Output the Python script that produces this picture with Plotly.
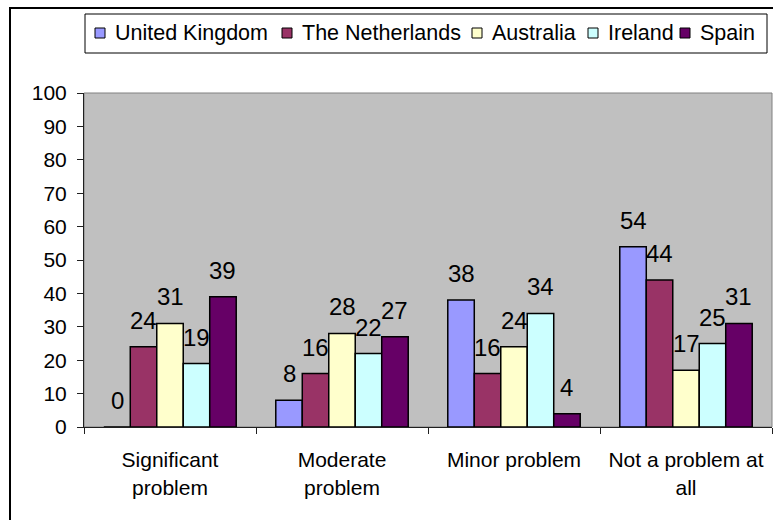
import plotly.graph_objects as go

categories = ["Significant<br>problem", "Moderate<br>problem", "Minor problem", "Not a problem at<br>all"]
countries = ["United Kingdom", "The Netherlands", "Australia", "Ireland", "Spain"]
uk = [0, 8, 38, 54]
netherlands = [24, 16, 16, 44]
australia = [31, 28, 24, 17]
ireland = [19, 22, 34, 25]
spain = [39, 27, 4, 31]
colors = ["#9999FF", "#993366", "#FFFFCC", "#CCFFFF", "#660066"]
y_ticks = list(range(0, 101, 10))

series = [uk, netherlands, australia, ireland, spain]

W, H = 773, 520
L, R, T, B = 84, 1, 93, 93
pw = W - L - R
ph = H - T - B
BARGAP = 0.23
FONT = "Liberation Sans, Arial, sans-serif"


def px_x(x):
    return (x - L) / pw


def px_y(y):
    return (H - B - y) / ph


fig = go.Figure()
for name, vals, col in zip(countries, series, colors):
    fig.add_trace(go.Bar(
        x=categories, y=vals, name=name,
        marker=dict(color=col, line=dict(color="black", width=1.5)),
        showlegend=False,
    ))

# value labels above each bar, shifted to the bar's slot within its group
cat_w = pw / len(categories)
bar_w = cat_w * (1 - BARGAP) / len(series)
n = len(series)
for i, vals in enumerate(series):
    dx = (i - (n - 1) / 2) * bar_w
    for cat, v in zip(categories, vals):
        fig.add_annotation(
            x=cat, y=v, xref="x", yref="y", text=str(v), showarrow=False,
            xanchor="center", yanchor="bottom", xshift=dx, yshift=11,
            font=dict(family=FONT, size=24, color="black"),
        )

# legend box with swatches (pixel positions of each entry's text start)
legend_text_x = [113, 300, 490, 606, 698]
fig.add_shape(type="rect", xref="paper", yref="paper",
              x0=px_x(85), x1=px_x(767), y0=px_y(53), y1=px_y(14),
              line=dict(color="black", width=1), fillcolor="white")
for name, col, tx in zip(countries, colors, legend_text_x):
    sx = tx - 18
    fig.add_shape(type="rect", xref="paper", yref="paper",
                  x0=px_x(sx), x1=px_x(sx + 10), y0=px_y(38), y1=px_y(28),
                  line=dict(color="black", width=1), fillcolor=col)
    fig.add_annotation(x=px_x(tx), y=px_y(33), xref="paper", yref="paper",
                       text=name, showarrow=False, xanchor="left", yanchor="middle",
                       font=dict(family=FONT, size=21.5, color="black"))

fig.update_layout(
    width=W, height=H,
    margin=dict(l=L, r=R, t=T, b=B, pad=0),
    paper_bgcolor="white", plot_bgcolor="#C0C0C0",
    font=dict(family=FONT, size=21, color="black"),
    barmode="group", bargap=BARGAP, bargroupgap=0,
    showlegend=False,
)
fig.update_yaxes(
    range=[0, 100], tickvals=y_ticks, ticks="outside", ticklen=6, tickcolor="#202020",
    showline=True, linecolor="#202020", linewidth=1, showgrid=False, zeroline=False,
    tickfont=dict(size=21), ticklabelstandoff=6,
)
fig.update_xaxes(
    ticks="outside", tickson="boundaries", ticklen=6, tickcolor="#202020",
    showline=True, linecolor="#202020", linewidth=1, showgrid=False,
    tickfont=dict(size=21), ticklabelstandoff=14,
)
# plot area border
fig.add_shape(type="rect", xref="paper", yref="paper", x0=0, x1=1, y0=0, y1=1,
              line=dict(color="#808080", width=1), fillcolor="rgba(0,0,0,0)", layer="below")
# outer chart frame
fig.add_shape(type="rect", xref="paper", yref="paper",
              x0=px_x(10), x1=px_x(790), y0=px_y(530), y1=px_y(8),
              line=dict(color="black", width=2), fillcolor="rgba(0,0,0,0)", layer="below")

fig.write_html("out.html")
